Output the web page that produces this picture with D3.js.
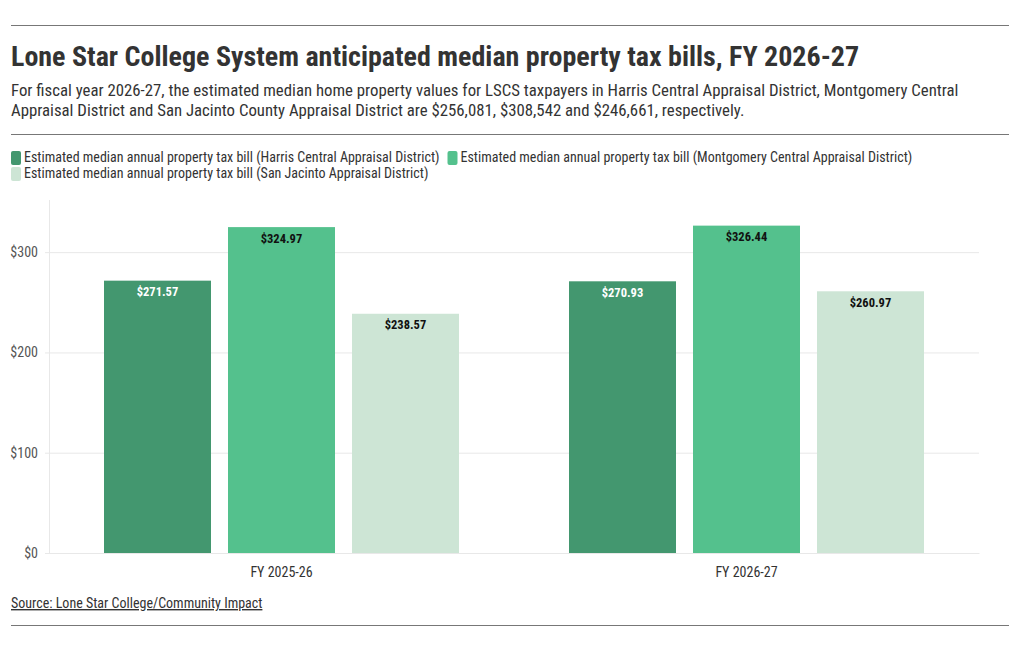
<!DOCTYPE html>
<html lang="en">
<head>
    <meta charset="UTF-8">
    <title>LSCS property tax bills</title>
    <script src="https://cdnjs.cloudflare.com/ajax/libs/d3/7.8.5/d3.min.js"></script>
    <style>
        body { margin: 0; background: #fff; }
        svg text { font-family: "Roboto Condensed", "Liberation Sans Narrow", "DejaVu Sans Condensed", Roboto, sans-serif; }
    </style>
</head>
<body>
    <div id="chart"></div>
    <script>
        // data
        var years = ['FY 2025-26', 'FY 2026-27'];
        var seriesNames = [
            'Estimated median annual property tax bill (Harris Central Appraisal District)',
            'Estimated median annual property tax bill (Montgomery Central Appraisal District)',
            'Estimated median annual property tax bill (San Jacinto Appraisal District)'
        ];
        var harris = [271.57, 270.93];
        var montgomery = [324.97, 326.44];
        var sanJacinto = [238.57, 260.97];
        var yTicks = [0, 100, 200, 300];

        var colors = ['#43976f', '#54c18d', '#cde5d5'];
        var labelColors = ['#ffffff', '#111111', '#111111'];
        var allSeries = [harris, montgomery, sanJacinto];

        var w = 1020, h = 650;
        var svg = d3.select('#chart').append('svg')
            .attr('width', w)
            .attr('height', h);

        // header rules
        [25.5, 134.5, 625.5].forEach(function (ry) {
            svg.append('line').attr('x1', 11).attr('x2', 1009).attr('y1', ry).attr('y2', ry)
                .attr('stroke', '#777').attr('stroke-width', 1);
        });

        svg.append('text')
            .attr('x', 11).attr('y', 66)
            .style('font-size', '28px').style('font-weight', 'bold').attr('fill', '#333')
            .text('Lone Star College System anticipated median property tax bills, FY 2026-27');

        var subtitle = [
            'For fiscal year 2026-27, the estimated median home property values for LSCS taxpayers in Harris Central Appraisal District, Montgomery Central',
            'Appraisal District and San Jacinto County Appraisal District are $256,081, $308,542 and $246,661, respectively.'
        ];
        svg.selectAll('.sub').data(subtitle).enter().append('text')
            .attr('class', 'sub')
            .attr('x', 11).attr('y', (d, i) => 96 + i * 20)
            .style('font-size', '16.8px').attr('fill', '#333')
            .text(d => d);

        // legend, wraps like the original
        var lx = 11, ly = 162;
        seriesNames.forEach(function (name, i) {
            var g = svg.append('g');
            var t = g.append('text').attr('y', 0).attr('x', 13)
                .style('font-size', '14px').attr('fill', '#333').text(name);
            var tw = t.node().getComputedTextLength();
            if (lx + 13 + tw > 1009) { lx = 11; ly += 16; }
            g.attr('transform', 'translate(' + lx + ',' + ly + ')');
            g.insert('rect', 'text').attr('x', 0).attr('y', -11).attr('width', 10).attr('height', 14)
                .attr('rx', 2).attr('fill', colors[i]);
            lx += 13 + tw + 8;
        });

        // plot
        var pLeft = 49, pRight = 979, pTop = 200, pBottom = 553;
        var y = d3.scaleLinear().domain([0, 352]).range([pBottom, pTop]);
        var x0 = d3.scaleBand().domain(years).range([pLeft, pRight]).padding(0);
        var x1 = d3.scaleBand().domain(d3.range(3)).range([55, 410]).paddingInner(17 / 124).paddingOuter(0);

        // gridlines + y labels
        var yAxis = d3.axisLeft(y).tickValues(yTicks).tickFormat(d => '$' + d)
            .tickSize(-(pRight - pLeft + 4)).tickPadding(7);
        var ya = svg.append('g').attr('transform', 'translate(' + (pLeft - 4) + ',0)').call(yAxis);
        ya.select('.domain').remove();
        ya.selectAll('line').attr('stroke', '#e8e8e8');
        ya.selectAll('text').style('font-size', '14px').attr('fill', '#555');

        svg.append('line').attr('x1', pLeft + 0.5).attr('x2', pLeft + 0.5).attr('y1', pTop).attr('y2', pBottom)
            .attr('stroke', '#e8e8e8');

        // bars
        var groups = svg.selectAll('.grp').data(years).enter().append('g')
            .attr('class', 'grp')
            .attr('transform', d => 'translate(' + x0(d) + ',0)');

        groups.selectAll('rect').data((d, yi) => allSeries.map((s, si) => ({ si: si, v: s[yi] })))
            .enter().append('rect')
            .attr('x', d => x1(d.si))
            .attr('width', x1.bandwidth())
            .attr('y', d => y(d.v))
            .attr('height', d => y(0) - y(d.v))
            .attr('fill', d => colors[d.si]);

        groups.selectAll('.lbl').data((d, yi) => allSeries.map((s, si) => ({ si: si, v: s[yi] })))
            .enter().append('text')
            .attr('class', 'lbl')
            .attr('x', d => x1(d.si) + x1.bandwidth() / 2)
            .attr('y', d => y(d.v) + 15.5)
            .attr('text-anchor', 'middle')
            .style('font-size', '12.5px').style('font-weight', 'bold')
            .attr('fill', d => labelColors[d.si])
            .text(d => '$' + d.v.toFixed(2));

        // x axis labels
        var xAxis = d3.axisBottom(x0).tickSize(0).tickPadding(14);
        var xa = svg.append('g').attr('transform', 'translate(0,' + pBottom + ')').call(xAxis);
        xa.select('.domain').attr('stroke', '#e8e8e8');
        xa.selectAll('text').style('font-size', '14px').attr('fill', '#333');

        // source
        svg.append('text')
            .attr('x', 11).attr('y', 608)
            .style('font-size', '14px').attr('fill', '#333')
            .style('text-decoration', 'underline')
            .text('Source: Lone Star College/Community Impact');
    </script>
</body>
</html>
